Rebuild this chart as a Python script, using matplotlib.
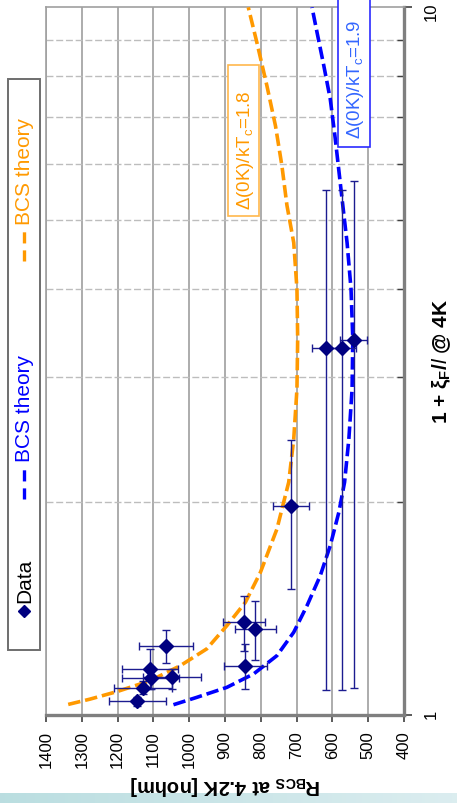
import numpy as np
import matplotlib
matplotlib.use("Agg")
import matplotlib.pyplot as plt
from matplotlib.patches import Rectangle
from matplotlib.ticker import FixedLocator, NullFormatter

plt.rcParams['font.family'] = ['Liberation Sans', 'DejaVu Sans']
plt.rcParams['mathtext.fontset'] = 'custom'
plt.rcParams['mathtext.rm'] = 'Liberation Sans'
plt.rcParams['mathtext.it'] = 'Liberation Sans:italic'
plt.rcParams['mathtext.bf'] = 'Liberation Sans:bold'
plt.rcParams['lines.scale_dashes'] = False

# measured data: R_BCS [nohm] vs 1 + xi_F/l
r_data = np.array([715, 847, 815, 843, 1064, 1110, 1108, 1048, 1129, 1145, 617, 573, 541])
v_data = np.array([1.972, 1.352, 1.323, 1.174, 1.250, 1.161, 1.129, 1.132, 1.092, 1.047, 3.30, 3.30, 3.39])
r_err = np.array([50, 58, 58, 59, 75, 78, 80, 80, 80, 80, 40, 40, 38])
v_low = np.array([1.507, 1.233, 1.197, 1.087, 1.186, 1.088, 1.090, 1.088, 1.071, 1.031, 1.086, 1.086, 1.092])
v_high = np.array([2.447, 1.471, 1.450, 1.260, 1.318, 1.239, 1.170, 1.161, 1.116, 1.059, 5.52, 5.52, 5.69])

# BCS theory, Delta(0K)/kTc = 1.8
v_bcs18 = [1.035, 1.053, 1.079, 1.118, 1.174, 1.240, 1.337, 1.443, 1.591, 1.831, 2.133,
           2.455, 2.888, 3.40, 4.0, 4.65, 5.25, 5.97, 6.80, 7.75, 8.92, 10]
r_bcs18 = [1338, 1277, 1202, 1109, 1025, 951, 895, 843, 801, 755, 722,
           708, 699, 697, 699, 708, 727, 741, 759, 783, 811, 835]

# BCS theory, Delta(0K)/kTc = 1.9
v_bcs19 = [1.034, 1.059, 1.094, 1.143, 1.213, 1.309, 1.427, 1.573, 1.735, 1.934, 2.133,
           2.455, 2.888, 3.40, 4.0, 4.65, 5.36, 6.52, 7.42, 8.27, 9.22, 10]
r_bcs19 = [1044, 979, 895, 820, 755, 708, 671, 634, 606, 582, 566,
           554, 545, 543, 548, 559, 573, 592, 606, 624, 643, 657]

r_ticks = list(range(1400, 399, -100))

navy = '#000080'
orange = '#FF9900'
blue = '#0000FF'

W, H = 457, 804
fig = plt.figure(figsize=(W / 100, H / 100), dpi=100)

ax = fig.add_axes([46 / W, 1 - 716 / H, (404 - 46) / W, (716 - 8.3) / H])
ax.set_yscale('log')
ax.set_xlim(1400, 400)
ax.set_ylim(1, 10)

ax.plot(r_bcs18, v_bcs18, color=orange, lw=2.6, dashes=(9, 3.5), zorder=3)
ax.plot(r_bcs19, v_bcs19, color=blue, lw=2.6, dashes=(9, 3.5), zorder=3)
ax.errorbar(r_data, v_data, xerr=r_err, yerr=[v_data - v_low, v_high - v_data],
            fmt='D', color=navy, ms=7, ecolor='#1C1C90', elinewidth=1,
            capsize=3, capthick=1, zorder=4)

# axes, ticks, grid
ax.set_xticks(r_ticks)
ax.set_xticklabels([str(t) for t in r_ticks])
ax.yaxis.tick_right()
ax.set_yticks([1, 10])
ax.set_yticklabels(['1', '10'])
ax.yaxis.set_minor_locator(FixedLocator([2, 3, 4, 5, 6, 7, 8, 9]))
ax.yaxis.set_minor_formatter(NullFormatter())
ax.tick_params(axis='x', labelrotation=90, labelsize=12, length=5, width=1.2,
               color='#404040', pad=6)
ax.tick_params(axis='y', which='major', labelrotation=90, labelsize=12, length=6,
               width=1.2, color='#404040', pad=8)
ax.tick_params(axis='y', which='minor', direction='in', length=5, width=1, color='#404040')
ax.grid(which='major', axis='x', color='#A6A6A6', lw=1.3)
ax.grid(which='minor', axis='y', color='#BDBDBD', lw=1, ls=(0, (5, 2)))
ax.set_axisbelow(True)
for side in ['left', 'top']:
    ax.spines[side].set_color('#A0A0A0')
    ax.spines[side].set_linewidth(1.2)
for side in ['right', 'bottom']:
    ax.spines[side].set_color('#7F7F7F')
    ax.spines[side].set_linewidth(2.4)

# overlay in pixel coordinates for legend, labels in boxes and slide band
ov = fig.add_axes([0, 0, 1, 1], zorder=5)
ov.axis('off')

grad = np.linspace(0, 1, 256)
c0 = np.array([0.73, 0.87, 0.88])
c1 = np.array([0.86, 0.93, 0.94])
band = (c0[None, None, :] * (1 - grad[None, :, None]) + c1[None, None, :] * grad[None, :, None])
ov.imshow(band, extent=(0, W, H, 794), aspect='auto', zorder=0)
ov.set_xlim(0, W)
ov.set_ylim(H, 0)

# axis titles
ov.text(225, 786, r'R$_{\mathbf{BCS}}$ at 4.2K [nohm]', rotation=180, ha='center', va='center',
        fontsize=14.5, fontweight='bold', zorder=3)
ov.text(442, 361, r'1 + ξ$_{\mathbf{F}}$/$\mathit{l}$ @ 4K', rotation=90, ha='center', va='center',
        fontsize=15, fontweight='bold', zorder=3)

# legend
ov.add_patch(Rectangle((8, 80), 32, 571, facecolor='white', edgecolor='#6E6E6E', lw=1.4))
ov.plot([24], [612], 'D', color=navy, ms=6)
ov.text(25, 603, 'Data', rotation=90, ha='center', va='bottom', fontsize=15, color='black')
ov.plot([24, 24], [500, 468], color=blue, lw=2.4, dashes=(8, 5))
ov.text(25, 462, 'BCS theory', rotation=90, ha='center', va='bottom', fontsize=15, color=blue)
ov.plot([24, 24], [262, 230], color=orange, lw=2.4, dashes=(8, 5))
ov.text(25, 225, 'BCS theory', rotation=90, ha='center', va='bottom', fontsize=15, color=orange)

# curve annotations
ov.add_patch(Rectangle((228.3, 66), 30.7, 151.3, facecolor='white', edgecolor='#FFB84D', lw=1.2))
ov.text(245.5, 150, r'Δ(0K)/kT$_\mathrm{c}$=1.8', rotation=90, ha='center', va='center',
        fontsize=13.5, color=orange)
ov.add_patch(Rectangle((337.7, -4), 32.3, 152.3, facecolor='white', edgecolor='#2B2BFF', lw=1.2))
ov.text(355.5, 79, r'Δ(0K)/kT$_\mathrm{c}$=1.9', rotation=90, ha='center', va='center',
        fontsize=13.5, color='#3366FF')

fig.savefig('out.png', dpi=100)
